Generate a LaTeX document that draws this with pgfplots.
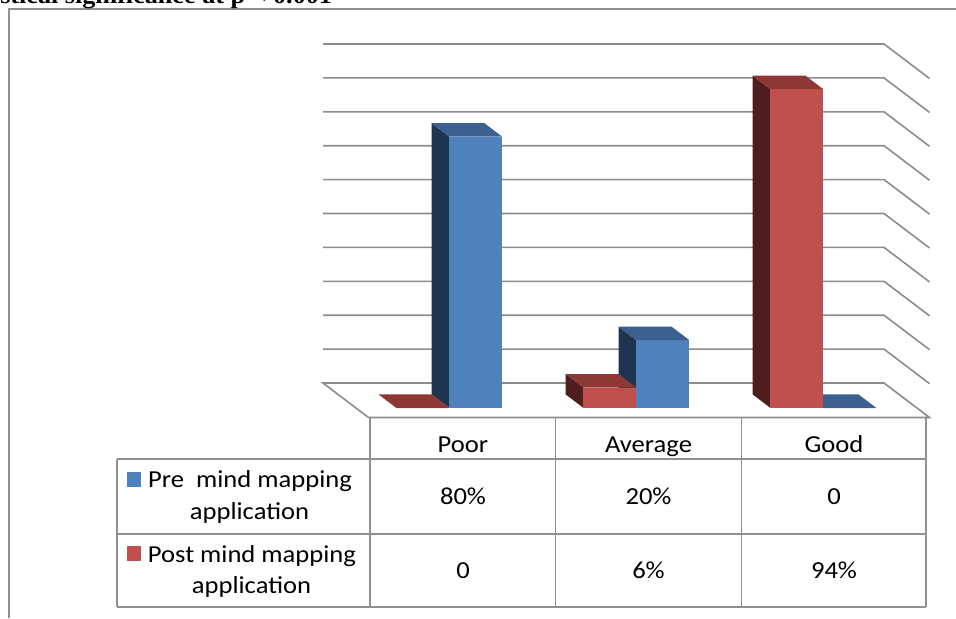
\documentclass[border=0pt]{standalone}
\usepackage{pgfplots}
\pgfplotsset{compat=1.18}
\usepackage{fontspec}
\setmainfont{Carlito}
\newfontfamily\titlefont{Liberation Serif}
\definecolor{bfront}{HTML}{4F81BD}
\definecolor{btop}{HTML}{3C6190}
\definecolor{bside}{HTML}{1F3450}
\definecolor{rfront}{HTML}{C0504D}
\definecolor{rtop}{HTML}{8E3836}
\definecolor{rside}{HTML}{4E1E1E}
\definecolor{gridc}{HTML}{8C8C8C}
\definecolor{linec}{HTML}{909090}
% cuboid: xleft, xright, value, side, top, front
\newcommand{\cuboid}[6]{%
  \addplot3[fill=#4,draw=none] coordinates {(#1,0.33,0) (#1,0.72,0) (#1,0.72,#3) (#1,0.33,#3)};
  \addplot3[fill=#6,draw=none] coordinates {(#1,0.72,0) (#2,0.72,0) (#2,0.72,#3) (#1,0.72,#3)};
  \addplot3[fill=#5,draw=none] coordinates {(#1,0.33,#3) (#2,0.33,#3) (#2,0.72,#3) (#1,0.72,#3)};
}
\begin{document}
\begin{tikzpicture}
\begin{axis}[
  x={(140.25pt,0pt)}, y={(34.125pt,-25.875pt)}, z={(0pt,2.5425pt)},
  xmin=-0.5, xmax=2.5, ymin=0, ymax=1, zmin=0, zmax=100,
  hide axis, clip=false]
% back wall + side wall gridlines
\pgfplotsinvokeforeach{10,20,30,40,50,60,70,80,90,100}{
  \addplot3[gridc, line width=1.2pt] coordinates {(-0.5,0,#1) (2.5,0,#1) (2.5,1,#1)};
}
% floor
\addplot3[gridc, line width=1.2pt] coordinates {(-0.5,1,0) (-0.5,0,0) (2.5,0,0) (2.5,1,0) (-0.5,1,0)};
% Poor: Pre 80, Post 0
\cuboid{0}{0.283}{80}{bside}{btop}{bfront}
\cuboid{-0.283}{0}{0}{rside}{rtop}{rfront}
% Average: Pre 20, Post 6
\cuboid{1}{1.283}{20}{bside}{btop}{bfront}
\cuboid{0.717}{1}{6}{rside}{rtop}{rfront}
% Good: Pre 0, Post 94
\cuboid{2}{2.283}{0}{bside}{btop}{bfront}
\cuboid{1.717}{2}{94}{rside}{rtop}{rfront}
\coordinate (O) at (axis cs:-0.5,0,0);
\end{axis}
\pgfresetboundingbox
\begin{scope}[shift={(O)}, xshift=-242.25pt, yshift=287.25pt, x={(0.75pt,0pt)}, y={(0pt,-0.75pt)}]
\path[use as bounding box] (0,0) rectangle (956,618);
% outer frame
\draw[linec, line width=1.1pt] (9,618) -- (9,9) -- (960,9);
% title (cut off)
\node[anchor=base west, inner sep=0pt, xscale=1.09, font=\titlefont\bfseries\fontsize{18pt}{20pt}\selectfont] at (0,3.5) {stical significance at p < 0.001};
% table
\draw[linec, line width=1.1pt] (370,418) -- (370,607);
\draw[linec, line width=1.1pt] (555.5,418) -- (555.5,607);
\draw[linec, line width=1.1pt] (741.5,418) -- (741.5,607);
\draw[linec, line width=1.1pt] (926,418) -- (926,607);
\draw[linec, line width=1.1pt] (117,459) -- (926,459);
\draw[linec, line width=1.1pt] (117,534) -- (926,534);
\draw[linec, line width=1.1pt] (117,607) -- (926,607);
\draw[linec, line width=1.1pt] (117,459) -- (117,607);
\begin{scope}[every node/.style={inner sep=0pt, xscale=1.09, font=\fontsize{18.3pt}{24.75pt}\selectfont}]
\node[anchor=base] at (463,452) {Poor};
\node[anchor=base] at (648.5,452) {Average};
\node[anchor=base] at (834,452) {Good};
\node[anchor=base] at (463,504) {80\%};
\node[anchor=base] at (648.5,504) {20\%};
\node[anchor=base] at (834,504) {0};
\node[anchor=base] at (463,578) {0};
\node[anchor=base] at (648.5,578) {6\%};
\node[anchor=base] at (834,578) {94\%};
\node[anchor=base] at (250,487) {Pre~ mind mapping};
\node[anchor=base] at (249.5,519) {application};
\node[anchor=base] at (252,562) {Post mind mapping};
\node[anchor=base] at (251.5,593) {application};
\end{scope}
\fill[bfront] (127,472) rectangle (141,487);
\fill[rfront] (127,546) rectangle (141,561);
\end{scope}
\end{tikzpicture}
\end{document}
